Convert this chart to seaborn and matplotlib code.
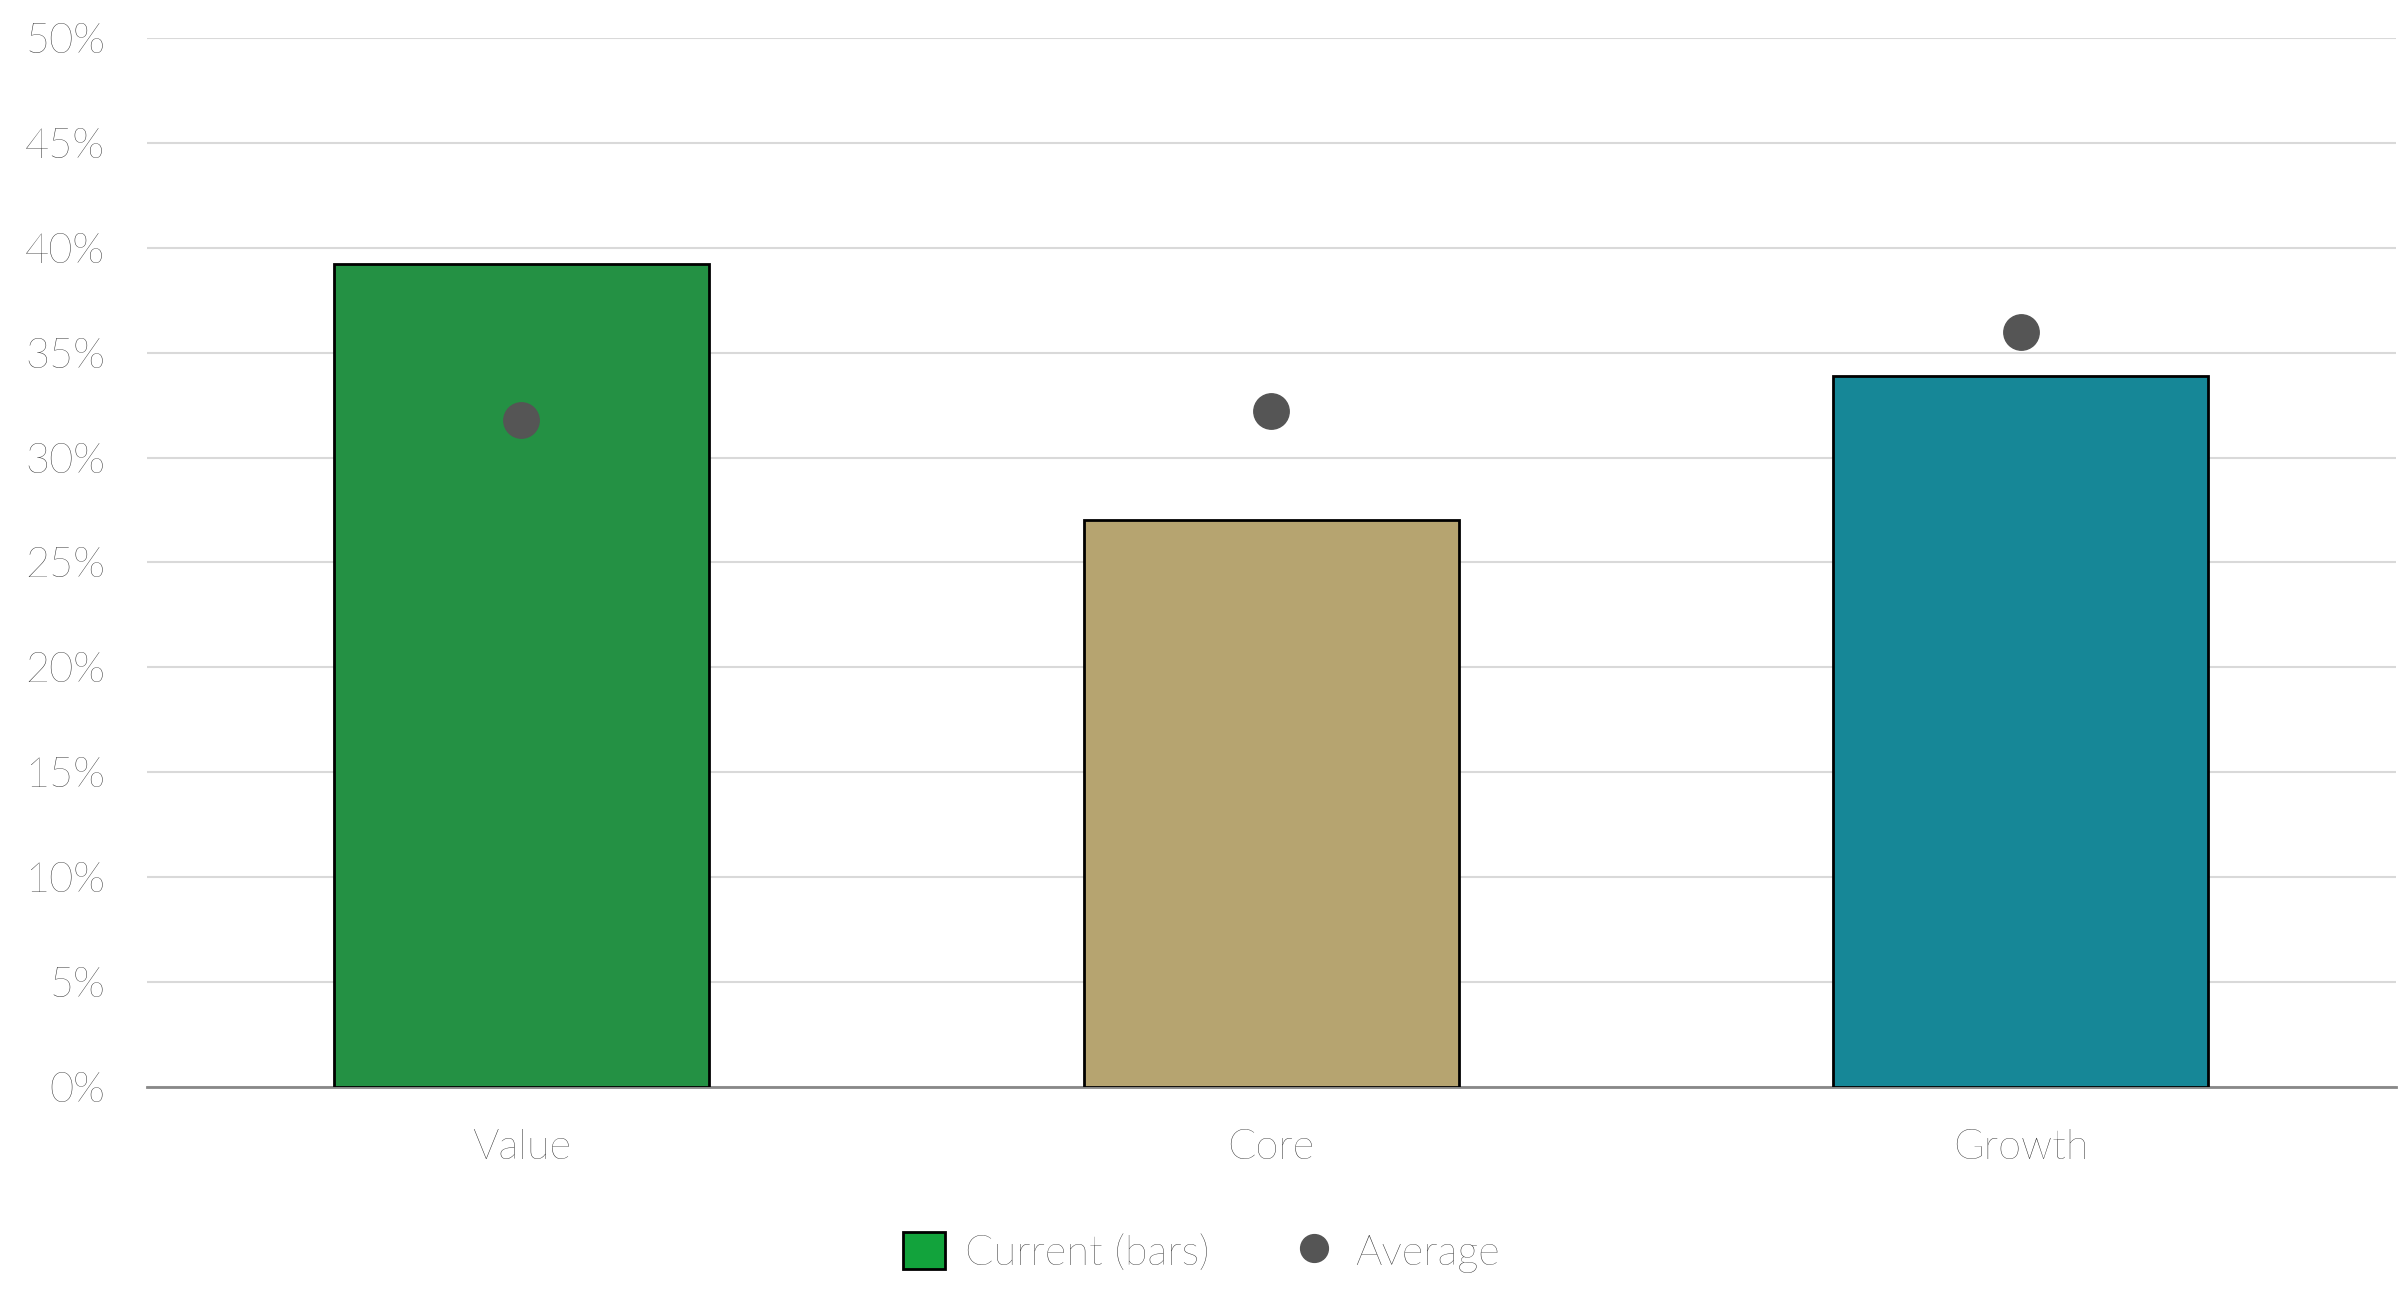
import matplotlib
matplotlib.use("Agg")
import matplotlib.pyplot as plt
import matplotlib.ticker as mticker
from matplotlib.lines import Line2D
from matplotlib.patches import Patch
import pandas as pd
import seaborn as sns

CATEGORIES = ["Value", "Core", "Growth"]
CURRENT = [39.2, 27.0, 33.9]
AVERAGE = [31.8, 32.2, 36.0]
BAR_COLORS = ["#12A33C", "#C2AA64", "#0097AC"]
DOT_COLOR = "#555555"

sns.set_theme(style="white", font="Lato")
plt.rcParams["font.weight"] = "light"

df = pd.DataFrame({"category": CATEGORIES, "current": CURRENT, "average": AVERAGE})

fig = plt.figure(figsize=(24.03, 12.99), dpi=100)
ax = fig.add_axes([0.061, 0.163, 0.936, 0.808])

sns.barplot(data=df, x="category", y="current", hue="category", palette=BAR_COLORS,
            width=0.5, edgecolor="black", linewidth=2, legend=False, ax=ax, zorder=3)
ax.scatter(range(len(CATEGORIES)), df["average"], s=650, color=DOT_COLOR, zorder=4)

ax.set_ylim(0, 50)
ax.set_xlim(-0.5, 2.5)
ax.yaxis.set_major_locator(mticker.MultipleLocator(5))
ax.yaxis.set_major_formatter(mticker.FuncFormatter(lambda v, _: f"{v:.0f}%"))
ax.yaxis.grid(True, color="#D9D9D9", linewidth=1.5, zorder=0)
ax.set_axisbelow(True)
ax.set_xlabel("")
ax.set_ylabel("")
for s in ("top", "right", "left"):
    ax.spines[s].set_visible(False)
ax.spines["bottom"].set_color("#888888")
ax.spines["bottom"].set_linewidth(2)
ax.tick_params(axis="y", length=0, labelsize=30, colors="#222222", pad=30)
ax.tick_params(axis="x", which="major", length=0, labelsize=30, colors="#222222", pad=30)
ax.set_xticks([-0.5, 0.5, 1.5, 2.5], minor=True)
ax.tick_params(axis="x", which="minor", length=14, width=2, color="#888888")

handles = [Patch(facecolor=BAR_COLORS[0], edgecolor="black", linewidth=2, label="Current (bars)"),
           Line2D([], [], marker="o", linestyle="", markersize=20, color=DOT_COLOR, label="Average")]
fig.legend(handles=handles, loc="center", bbox_to_anchor=(0.5, 0.036), ncol=2, frameon=False,
           fontsize=30, handlelength=1.0, handleheight=1.0, columnspacing=2.0, handletextpad=0.5)

fig.savefig("out.png", dpi=100)
